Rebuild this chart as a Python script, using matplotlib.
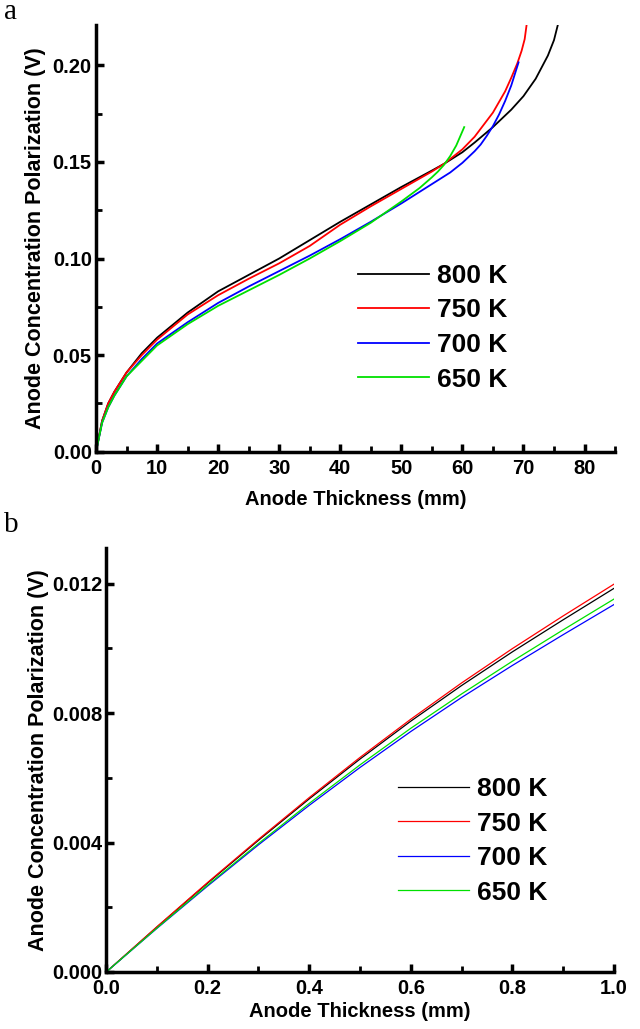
import numpy as np
import matplotlib.pyplot as plt
from matplotlib.ticker import MultipleLocator, FormatStrFormatter

plt.rcParams['font.family'] = ['Liberation Sans', 'DejaVu Sans']
plt.rcParams['font.weight'] = 'bold'

labels = ['800 K', '750 K', '700 K', '650 K']
colors = ['black', '#ff0000', '#0000ff', '#00e000']

# panel a: thickness (mm) vs polarization (V)
x800 = [0, 1, 2, 3, 5, 7.5, 10, 15, 20, 25, 30, 35, 40, 45, 50, 55, 57, 60, 62, 65, 68, 70, 72, 74, 75, 75.6]
y800 = [0, 0.016, 0.025, 0.031, 0.041, 0.051, 0.059, 0.072, 0.083, 0.0915, 0.100, 0.1095, 0.119,
        0.128, 0.137, 0.1455, 0.149, 0.155, 0.160, 0.168, 0.177, 0.184, 0.193, 0.205, 0.213, 0.2205]
x750 = [0, 1, 2, 3, 5, 7.5, 10, 15, 20, 25, 30, 35, 40, 45, 50, 55, 57, 60, 62, 65, 67, 68, 69,
        69.7, 70.2, 70.5]
y750 = [0, 0.016, 0.025, 0.031, 0.041, 0.050, 0.058, 0.071, 0.081, 0.0895, 0.0975, 0.1065, 0.1175,
        0.127, 0.136, 0.145, 0.149, 0.1565, 0.163, 0.1755, 0.1865, 0.1935, 0.201, 0.2075, 0.2135, 0.2205]
x700 = [0, 1, 2, 3, 5, 7.5, 10, 15, 20, 25, 30, 35, 40, 45, 50, 55, 58, 60, 62, 63, 64, 65, 66,
        67, 68, 69.2]
y700 = [0, 0.015, 0.023, 0.029, 0.039, 0.048, 0.056, 0.067, 0.077, 0.0855, 0.0935, 0.1015, 0.110,
        0.119, 0.1285, 0.1385, 0.1445, 0.1495, 0.1555, 0.159, 0.1635, 0.1685, 0.1745, 0.1815,
        0.1895, 0.2015]
x650 = [0, 1, 2, 3, 5, 7.5, 10, 15, 20, 25, 30, 35, 40, 45, 50, 53, 55, 56, 57, 58, 59, 60.3]
y650 = [0, 0.015, 0.023, 0.029, 0.039, 0.047, 0.055, 0.066, 0.0755, 0.0835, 0.0915, 0.100, 0.109,
        0.1185, 0.1295, 0.1365, 0.142, 0.145, 0.1485, 0.153, 0.1585, 0.168]

# panel b: first millimetre
xb = [0, 0.1, 0.2, 0.3, 0.4, 0.5, 0.6, 0.7, 0.8, 0.9, 1.0]
yb800 = [0, 0.00139, 0.00275, 0.00407, 0.00535, 0.00658, 0.00775, 0.00885, 0.00989, 0.01088, 0.01185]
yb750 = [0, 0.00140, 0.00277, 0.00410, 0.00539, 0.00663, 0.00781, 0.00893, 0.00999, 0.01100, 0.01198]
yb700 = [0, 0.00135, 0.00266, 0.00393, 0.00515, 0.00632, 0.00743, 0.00848, 0.00947, 0.01042, 0.01135]
yb650 = [0, 0.00136, 0.00269, 0.00397, 0.00521, 0.00640, 0.00753, 0.00859, 0.00960, 0.01057, 0.01152]

fig = plt.figure(figsize=(6.4, 10.29), dpi=100)
ax1 = fig.add_axes([0.150, 0.561, 0.811, 0.415])
ax2 = fig.add_axes([0.166, 0.0554, 0.793, 0.412])


def style(ax):
    for s in ['top', 'right']:
        ax.spines[s].set_visible(False)
    for s in ['left', 'bottom']:
        ax.spines[s].set_linewidth(2.5)
    ax.tick_params(which='major', direction='in', length=6, width=2.5, labelsize=14.5)
    ax.tick_params(axis='x', which='major', pad=5)
    ax.tick_params(axis='y', which='major', pad=3)
    ax.tick_params(which='minor', direction='in', length=4, width=2)
    for t in ax.get_xticklabels() + ax.get_yticklabels():
        t.set_fontweight('bold')


leg_kw = dict(loc='upper left', frameon=False, borderpad=0, borderaxespad=0,
              handlelength=2.7, handletextpad=0.3, labelspacing=0.4,
              prop={'weight': 'bold', 'size': 19})

for xs, ys, c, l in zip([x800, x750, x700, x650], [y800, y750, y700, y650], colors, labels):
    ax1.plot(xs, ys, color=c, lw=1.3, label=l)
ax1.set_xlim(0, 85)
ax1.set_ylim(0, 0.221)
ax1.xaxis.set_major_locator(MultipleLocator(10))
ax1.xaxis.set_minor_locator(MultipleLocator(5))
ax1.yaxis.set_major_locator(MultipleLocator(0.05))
ax1.yaxis.set_minor_locator(MultipleLocator(0.025))
ax1.yaxis.set_major_formatter(FormatStrFormatter('%.2f'))
ax1.set_xlabel('Anode Thickness (mm)', fontsize=14.5, fontweight='bold', labelpad=9)
ax1.set_ylabel('Anode Concentration Polarization (V)', fontsize=15.5, fontweight='bold', labelpad=5)
style(ax1)
ax1.legend(bbox_to_anchor=(0.505, 0.44), **leg_kw)

for ys, c, l in zip([yb800, yb750, yb700, yb650], colors, labels):
    ax2.plot(xb, ys, color=c, lw=0.9, label=l)
ax2.set_xlim(0, 1.0)
ax2.set_ylim(0, 0.0131)
ax2.xaxis.set_major_locator(MultipleLocator(0.2))
ax2.xaxis.set_minor_locator(MultipleLocator(0.1))
ax2.yaxis.set_major_locator(MultipleLocator(0.004))
ax2.yaxis.set_minor_locator(MultipleLocator(0.002))
ax2.yaxis.set_major_formatter(FormatStrFormatter('%.3f'))
ax2.xaxis.set_major_formatter(FormatStrFormatter('%.1f'))
ax2.set_xlabel('Anode Thickness (mm)', fontsize=14.5, fontweight='bold', labelpad=3)
ax2.set_ylabel('Anode Concentration Polarization (V)', fontsize=15.5, fontweight='bold', labelpad=2)
style(ax2)
ax2.legend(bbox_to_anchor=(0.575, 0.46), **leg_kw)

fig.text(0.006, 0.988, 'a', family='Liberation Serif', fontsize=21, va='center', fontweight='normal')
fig.text(0.006, 0.490, 'b', family='Liberation Serif', fontsize=21, va='center', fontweight='normal')

fig.savefig('out.png', dpi=100)
